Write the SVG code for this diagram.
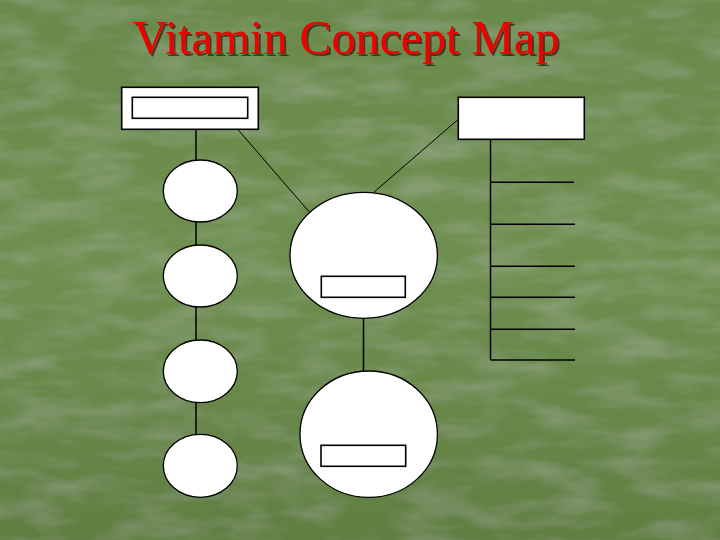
<svg xmlns="http://www.w3.org/2000/svg" width="720" height="540" viewBox="0 0 720 540">
  <defs>
    <linearGradient id="bg" x1="0" y1="0" x2="0" y2="1">
      <stop offset="0" stop-color="#6a8a4b"/>
      <stop offset="0.5" stop-color="#6f8f50"/>
      <stop offset="1" stop-color="#617f42"/>
    </linearGradient>
    <filter id="tex" x="0" y="0" width="100%" height="100%">
      <feTurbulence type="fractalNoise" baseFrequency="0.015 0.05" numOctaves="3" seed="7" result="n"/>
      <feColorMatrix in="n" type="matrix" values="0 0 0 0 1  0 0 0 0 1  0 0 0 0 1  0 0 0 0.22 -0.09" result="w"/>
      <feComposite in="w" in2="SourceGraphic" operator="over"/>
    </filter>
    <filter id="shadow" x="-5%" y="-20%" width="110%" height="140%">
      <feDropShadow dx="2" dy="2" stdDeviation="0.4" flood-color="#3a2a18" flood-opacity="0.85"/>
    </filter>
    <style>
      .shape { fill: #ffffff; stroke: #000000; stroke-width: 1.3; }
      .box { fill: #ffffff; stroke: #000000; stroke-width: 1.6; }
      .line { stroke: #000000; stroke-width: 1.5; fill: none; }
      .diag { stroke: #000000; stroke-width: 1; fill: none; }
      .title { font-family: "Liberation Serif", "Times New Roman", serif; font-size: 48px; fill: #ee0000; }
    </style>
  </defs>

  <rect x="0" y="0" width="720" height="540" fill="url(#bg)" filter="url(#tex)"/>

  <g id="title">
    <text class="title" x="133" y="54" filter="url(#shadow)">Vitamin Concept Map</text>
  </g>

  <g id="connectors">
    <line class="line" x1="196" y1="129.3" x2="196" y2="160"/>
    <line class="line" x1="196" y1="222" x2="196" y2="245"/>
    <line class="line" x1="196" y1="307" x2="196" y2="340"/>
    <line class="line" x1="196" y1="403" x2="196" y2="434"/>
    <line class="diag" x1="237.7" y1="129.3" x2="309" y2="211.7"/>
    <line class="diag" x1="458.3" y1="119.3" x2="373.3" y2="192.7"/>
    <line class="line" x1="363.5" y1="318.3" x2="363.5" y2="371"/>
    <line class="line" x1="490.5" y1="139.3" x2="490.5" y2="360"/>
    <line class="line" x1="490.5" y1="182.3" x2="574" y2="182.3"/>
    <line class="line" x1="490.5" y1="224.3" x2="575" y2="224.3"/>
    <line class="line" x1="490.5" y1="266.3" x2="575" y2="266.3"/>
    <line class="line" x1="490.5" y1="297.3" x2="575" y2="297.3"/>
    <line class="line" x1="490.5" y1="329.3" x2="575" y2="329.3"/>
    <line class="line" x1="490.5" y1="360" x2="575" y2="360"/>
  </g>

  <g id="node-top-left">
    <rect class="box" x="121.7" y="87.3" width="136.6" height="42"/>
    <rect class="box" x="132.3" y="97.3" width="115.4" height="21"/>
  </g>

  <g id="node-top-right">
    <rect class="box" x="458.3" y="97.3" width="126" height="42"/>
  </g>

  <g id="node-oval-1">
    <ellipse class="shape" cx="200.3" cy="191" rx="37" ry="31"/>
  </g>
  <g id="node-oval-2">
    <ellipse class="shape" cx="200.3" cy="276" rx="37" ry="31"/>
  </g>
  <g id="node-oval-3">
    <ellipse class="shape" cx="200.3" cy="371.3" rx="37" ry="31.3"/>
  </g>
  <g id="node-oval-4">
    <ellipse class="shape" cx="200.3" cy="465.8" rx="37" ry="31.5"/>
  </g>

  <g id="node-big-1">
    <ellipse class="shape" cx="363.7" cy="255.3" rx="73.7" ry="63"/>
    <rect class="box" x="321.3" y="276.3" width="84" height="21"/>
  </g>

  <g id="node-big-2">
    <ellipse class="shape" cx="368.7" cy="434.2" rx="68.7" ry="63.2"/>
    <rect class="box" x="321" y="445.3" width="84.7" height="21"/>
  </g>
</svg>
